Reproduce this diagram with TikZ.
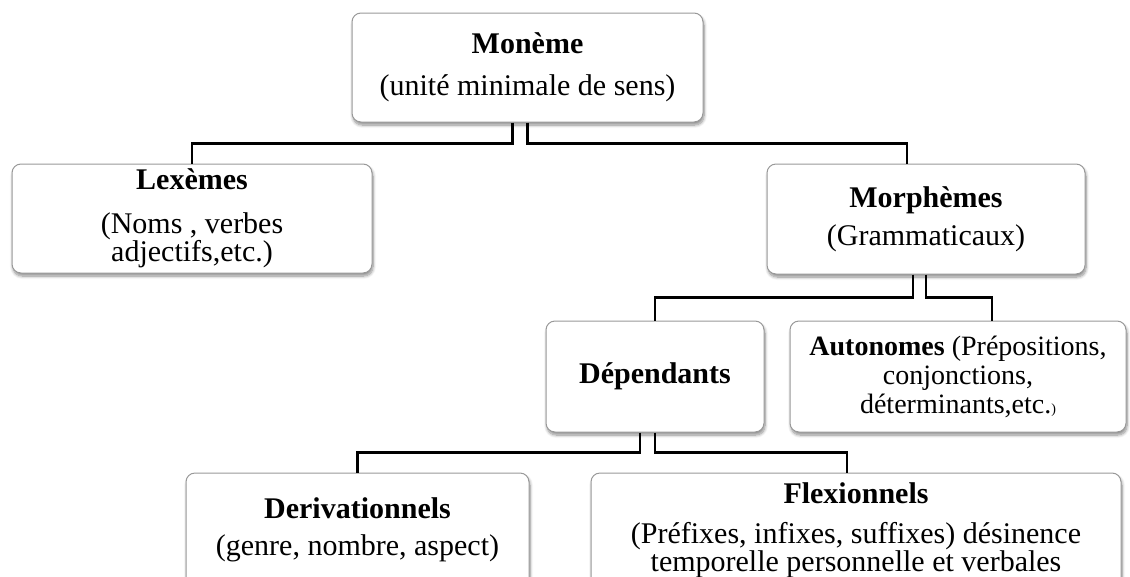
\documentclass[tikz,border=0pt]{standalone}
\usepackage{fontspec}
\setmainfont{Liberation Serif}
\usetikzlibrary{shadows.blur}

\begin{document}
\begin{tikzpicture}[x=1pt,y=-1pt,
  box/.style={draw=black!40, line width=1pt, fill=white, rounded corners=9pt,
    blur shadow={shadow xshift=1pt, shadow yshift=-3pt, shadow opacity=45,
      shadow blur steps=8, shadow blur radius=3pt},
    align=center, inner sep=0pt, font=\fontsize{30}{27}\selectfont},
  lowbox/.style={box, font=\fontsize{30}{25}\selectfont},
  conn/.style={draw=black, line width=2.5pt},
]
\useasboundingbox (0,0) rectangle (1130,576);

% boxes
\node[box, minimum width=351pt, minimum height=109pt] (moneme) at (527.5,67.5)
  {\textbf{Monème}\\[15pt](unité minimale de sens)};
\node[box, minimum width=360pt, minimum height=109pt] (lex) at (192,218.5)
  {\textbf{Lexèmes}\\[17pt](Noms , verbes\\adjectifs,etc.)};
\node[box, minimum width=318pt, minimum height=110pt] (morph) at (926,219)
  {\textbf{Morphèmes}\\[10pt](Grammaticaux)};
\node[box, minimum width=218pt, minimum height=111pt] (dep) at (655,376.5)
  {\textbf{Dépendants}};
\node[box, font=\fontsize{28}{29}\selectfont, minimum width=336pt, minimum height=111pt] (auto) at (958,376.5)
  {\textbf{Autonomes} (Prépositions,\\conjonctions,\\déterminants,etc.{\fontsize{14}{14}\selectfont)}};
\node[lowbox, minimum width=343pt, minimum height=114pt] (deriv) at (357.5,530)
  {\textbf{Derivationnels}\\[12pt](genre, nombre, aspect)};
\node[lowbox, minimum width=530pt, minimum height=114pt] (flex) at (856,530)
  {\textbf{Flexionnels}\\[15pt](Préfixes, infixes, suffixes) désinence\\temporelle personnelle et verbales};

% connectors
\draw[conn] ([xshift=-15pt]moneme.south) -- ++(0,21) -| (lex.north);
\draw[conn] (moneme.south) -- ++(0,21) -| ([xshift=-19pt]morph.north);
\draw[conn] ([xshift=-13pt]morph.south) -- ++(0,23) -| (dep.north);
\draw[conn] (morph.south) -- ++(0,23) -| ([xshift=34pt]auto.north);
\draw[conn] ([xshift=-15pt]dep.south) -- ++(0,20) -| (deriv.north);
\draw[conn] (dep.south) -- ++(0,20) -| ([xshift=-9pt]flex.north);
\end{tikzpicture}
\end{document}
